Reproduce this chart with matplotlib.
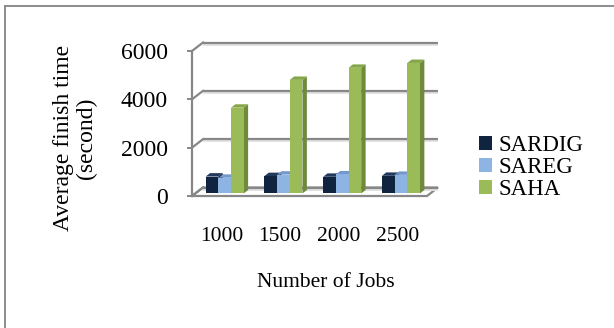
import matplotlib
matplotlib.use("Agg")
import matplotlib.pyplot as plt
from matplotlib.patches import Polygon, Patch
from matplotlib.lines import Line2D

plt.rcParams['font.family'] = ['Liberation Serif', 'DejaVu Serif']

# ---- data -------------------------------------------------------------
categories = ['1000', '1500', '2000', '2500']
series_names = ['SARDIG', 'SAREG', 'SAHA']
sardig = [700, 720, 690, 730]
sareg = [650, 780, 790, 770]
saha = [3550, 4700, 5200, 5400]
y_ticks = [0, 2000, 4000, 6000]

series_values = [sardig, sareg, saha]
front_colors = ['#10233F', '#8EB4E3', '#9BBB59']
side_colors = ['#0A1629', '#6A8FC0', '#6E8A3B']
top_colors = ['#22395C', '#7399CC', '#86A64A']
grid_color = '#878787'

W, H = 614, 328
fig = plt.figure(figsize=(W / 100, H / 100), dpi=100)

# front plane of the pseudo-3D box, in figure pixels
x0, x1, yb, yt = 192, 427, 196, 51
ax = fig.add_axes([x0 / W, (H - yb) / H, (x1 - x0) / W, (yb - yt) / H])
n = len(categories)
ymax = y_ticks[-1]
ax.set_xlim(0, n)
ax.set_ylim(0, ymax)

# depth shift (back wall relative to front plane) expressed in data units
px_per_x = (x1 - x0) / n
px_per_y = (yb - yt) / ymax
KX = 11 / px_per_x
KY = 8.5 / px_per_y

# floor
ax.add_patch(Polygon([(0, 0), (n, 0), (n + KX, KY), (KX, KY)], closed=True,
                     facecolor='white', edgecolor=grid_color, lw=1.6,
                     clip_on=False, zorder=1))
# back wall gridlines with a soft shade below and side-wall diagonals
for v in y_ticks:
    ax.plot([KX, n + KX], [v + KY - 2.2 / px_per_y] * 2, color='#E2E2E2',
            lw=1.4, clip_on=False, zorder=1, solid_capstyle='butt')
    ax.plot([KX, n + KX], [v + KY] * 2, color=grid_color, lw=1.6,
            clip_on=False, zorder=1.5, solid_capstyle='butt')
    ax.plot([0, KX], [v, v + KY], color=grid_color, lw=1.6,
            clip_on=False, zorder=1.5)

# bars: front faces with ax.bar, then side and top faces
w = 0.216
df, db = 0.3, 0.7
z = 3
for i in range(n):
    for j, vals in enumerate(series_values):
        v = vals[i]
        xl = i + 0.5 - 1.5 * w + j * w
        xr = xl + w
        side = [(xr + df * KX, df * KY), (xr + db * KX, db * KY),
                (xr + db * KX, v + db * KY), (xr + df * KX, v + df * KY)]
        top = [(xl + df * KX, v + df * KY), (xr + df * KX, v + df * KY),
               (xr + db * KX, v + db * KY), (xl + db * KX, v + db * KY)]
        ax.add_patch(Polygon(side, closed=True, facecolor=side_colors[j],
                             edgecolor='none', clip_on=False, zorder=z))
        ax.add_patch(Polygon(top, closed=True, facecolor=top_colors[j],
                             edgecolor='none', clip_on=False, zorder=z))
        ax.bar(xl + df * KX, v, width=w, bottom=df * KY, align='edge',
               color=front_colors[j], edgecolor='none', clip_on=False,
               zorder=z + 0.5)
        z += 1

# axes styling
for s in ['top', 'right', 'bottom']:
    ax.spines[s].set_visible(False)
ax.spines['left'].set_color(grid_color)
ax.spines['left'].set_linewidth(1.6)
ax.set_yticks(y_ticks)
ax.set_yticklabels([str(t) for t in y_ticks])
ax.tick_params(axis='y', length=3.8, width=1.4, color=grid_color, pad=13.5,
               labelsize=17)
ax.set_xticks([i + 0.5 for i in range(n)])
ax.set_xticklabels(categories)
ax.tick_params(axis='x', length=0, pad=22, labelsize=15.5)
ax.patch.set_visible(False)

fig.text(326 / W, 1 - 287 / H, 'Number of Jobs', ha='center', va='baseline',
         fontsize=15.5)
fig.text(75 / W, 1 - 138 / H, 'Average finish time\n(second)', rotation=90,
         ha='center', va='center', fontsize=17, linespacing=1.15,
         multialignment='center')

handles = [Patch(facecolor=c, edgecolor='none') for c in front_colors]
ax.legend(handles, series_names, loc='center left',
          bbox_to_anchor=(479 / W, 1 - 167.5 / H), bbox_transform=fig.transFigure,
          frameon=False, fontsize=16.5, handlelength=0.55, handleheight=0.55,
          handletextpad=0.3, labelspacing=0.05, borderpad=0, borderaxespad=0)

# outer frame
fig.add_artist(Line2D([5 / W, 5 / W], [0, 1 - 6 / H], color='#8C8C8C', lw=1.4))
fig.add_artist(Line2D([5 / W, 1], [1 - 6 / H, 1 - 6 / H], color='#8C8C8C', lw=1.4))

fig.savefig('out.png', dpi=100)
